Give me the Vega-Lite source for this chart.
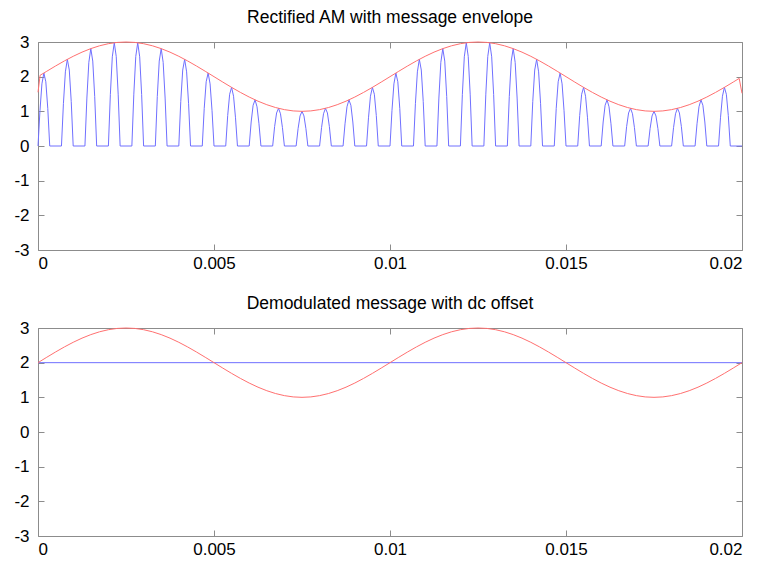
{
"$schema": "https://vega.github.io/schema/vega-lite/v6.json",
"padding": {"left": 13, "top": 8, "right": 10, "bottom": 5},
"background": "white",
"config": {
 "view": {"stroke": "#8c8c8c", "strokeWidth": 1},
 "axis": {"domain": false, "grid": false, "tickSize": -6, "tickColor": "#8c8c8c", "tickWidth": 1, "labelFont": "Liberation Sans", "labelFontSize": 17, "labelColor": "#000000", "title": null},
 "title": {"font": "Liberation Sans", "fontSize": 17.5, "fontWeight": "normal", "color": "#000000", "offset": 7},
 "concat": {"spacing": 22}
},
"datasets": {
 "am": [
{"t":0,"v":0},{"t":0.0000556,"v":1.0175},{"t":0.0001111,"v":1.7925},{"t":0.0001667,"v":2.1045},{"t":0.0002222,"v":1.8526},{"t":0.0002778,"v":1.0868},{"t":0.0003333,"v":0},
{"t":0.0006667,"v":0},{"t":0.0007222,"v":1.2192},{"t":0.0007778,"v":2.1387},{"t":0.0008333,"v":2.5},{"t":0.0008889,"v":2.191},{"t":0.0009444,"v":1.2796},{"t":0.001,"v":0},
{"t":0.0013333,"v":0},{"t":0.0013889,"v":1.383},{"t":0.0014444,"v":2.4145},{"t":0.0015,"v":2.809},{"t":0.0015556,"v":2.45},{"t":0.0016111,"v":1.424},{"t":0.0016667,"v":0},
{"t":0.002,"v":0},{"t":0.0020556,"v":1.4807},{"t":0.0021111,"v":2.5724},{"t":0.0021667,"v":2.9781},{"t":0.0022222,"v":2.5849},{"t":0.0022778,"v":1.4952},{"t":0.0023333,"v":0},
{"t":0.0026667,"v":0},{"t":0.0027222,"v":1.4952},{"t":0.0027778,"v":2.5849},{"t":0.0028333,"v":2.9781},{"t":0.0028889,"v":2.5724},{"t":0.0029444,"v":1.4807},{"t":0.003,"v":0},
{"t":0.0033333,"v":0},{"t":0.0033889,"v":1.424},{"t":0.0034444,"v":2.45},{"t":0.0035,"v":2.809},{"t":0.0035556,"v":2.4145},{"t":0.0036111,"v":1.383},{"t":0.0036667,"v":0},
{"t":0.004,"v":0},{"t":0.0040556,"v":1.2796},{"t":0.0041111,"v":2.191},{"t":0.0041667,"v":2.5},{"t":0.0042222,"v":2.1387},{"t":0.0042778,"v":1.2192},{"t":0.0043333,"v":0},
{"t":0.0046667,"v":0},{"t":0.0047222,"v":1.0868},{"t":0.0047778,"v":1.8526},{"t":0.0048333,"v":2.1045},{"t":0.0048889,"v":1.7925},{"t":0.0049444,"v":1.0175},{"t":0.005,"v":0},
{"t":0.0053333,"v":0},{"t":0.0053889,"v":0.8791},{"t":0.0054444,"v":1.4934},{"t":0.0055,"v":1.691},{"t":0.0055556,"v":1.4359},{"t":0.0056111,"v":0.8127},{"t":0.0056667,"v":0},
{"t":0.006,"v":0},{"t":0.0060556,"v":0.6922},{"t":0.0061111,"v":1.1754},{"t":0.0061667,"v":1.3309},{"t":0.0062222,"v":1.1304},{"t":0.0062778,"v":0.6404},{"t":0.0063333,"v":0},
{"t":0.0066667,"v":0},{"t":0.0067222,"v":0.5586},{"t":0.0067778,"v":0.9537},{"t":0.0068333,"v":1.0865},{"t":0.0068889,"v":0.9291},{"t":0.0069444,"v":0.5302},{"t":0.007,"v":0},
{"t":0.0073333,"v":0},{"t":0.0073889,"v":0.5012},{"t":0.0074444,"v":0.8665},{"t":0.0075,"v":1},{"t":0.0075556,"v":0.8665},{"t":0.0076111,"v":0.5012},{"t":0.0076667,"v":0},
{"t":0.008,"v":0},{"t":0.0080556,"v":0.5302},{"t":0.0081111,"v":0.9291},{"t":0.0081667,"v":1.0865},{"t":0.0082222,"v":0.9537},{"t":0.0082778,"v":0.5586},{"t":0.0083333,"v":0},
{"t":0.0086667,"v":0},{"t":0.0087222,"v":0.6404},{"t":0.0087778,"v":1.1304},{"t":0.0088333,"v":1.3309},{"t":0.0088889,"v":1.1754},{"t":0.0089444,"v":0.6922},{"t":0.009,"v":0},
{"t":0.0093333,"v":0},{"t":0.0093889,"v":0.8127},{"t":0.0094444,"v":1.4359},{"t":0.0095,"v":1.691},{"t":0.0095556,"v":1.4934},{"t":0.0096111,"v":0.8791},{"t":0.0096667,"v":0},
{"t":0.01,"v":0},{"t":0.0100556,"v":1.0175},{"t":0.0101111,"v":1.7925},{"t":0.0101667,"v":2.1045},{"t":0.0102222,"v":1.8526},{"t":0.0102778,"v":1.0868},{"t":0.0103333,"v":0},
{"t":0.0106667,"v":0},{"t":0.0107222,"v":1.2192},{"t":0.0107778,"v":2.1387},{"t":0.0108333,"v":2.5},{"t":0.0108889,"v":2.191},{"t":0.0109444,"v":1.2796},{"t":0.011,"v":0},
{"t":0.0113333,"v":0},{"t":0.0113889,"v":1.383},{"t":0.0114444,"v":2.4145},{"t":0.0115,"v":2.809},{"t":0.0115556,"v":2.45},{"t":0.0116111,"v":1.424},{"t":0.0116667,"v":0},
{"t":0.012,"v":0},{"t":0.0120556,"v":1.4807},{"t":0.0121111,"v":2.5724},{"t":0.0121667,"v":2.9781},{"t":0.0122222,"v":2.5849},{"t":0.0122778,"v":1.4952},{"t":0.0123333,"v":0},
{"t":0.0126667,"v":0},{"t":0.0127222,"v":1.4952},{"t":0.0127778,"v":2.5849},{"t":0.0128333,"v":2.9781},{"t":0.0128889,"v":2.5724},{"t":0.0129444,"v":1.4807},{"t":0.013,"v":0},
{"t":0.0133333,"v":0},{"t":0.0133889,"v":1.424},{"t":0.0134444,"v":2.45},{"t":0.0135,"v":2.809},{"t":0.0135556,"v":2.4145},{"t":0.0136111,"v":1.383},{"t":0.0136667,"v":0},
{"t":0.014,"v":0},{"t":0.0140556,"v":1.2796},{"t":0.0141111,"v":2.191},{"t":0.0141667,"v":2.5},{"t":0.0142222,"v":2.1387},{"t":0.0142778,"v":1.2192},{"t":0.0143333,"v":0},
{"t":0.0146667,"v":0},{"t":0.0147222,"v":1.0868},{"t":0.0147778,"v":1.8526},{"t":0.0148333,"v":2.1045},{"t":0.0148889,"v":1.7925},{"t":0.0149444,"v":1.0175},{"t":0.015,"v":0},
{"t":0.0153333,"v":0},{"t":0.0153889,"v":0.8791},{"t":0.0154444,"v":1.4934},{"t":0.0155,"v":1.691},{"t":0.0155556,"v":1.4359},{"t":0.0156111,"v":0.8127},{"t":0.0156667,"v":0},
{"t":0.016,"v":0},{"t":0.0160556,"v":0.6922},{"t":0.0161111,"v":1.1754},{"t":0.0161667,"v":1.3309},{"t":0.0162222,"v":1.1304},{"t":0.0162778,"v":0.6404},{"t":0.0163333,"v":0},
{"t":0.0166667,"v":0},{"t":0.0167222,"v":0.5586},{"t":0.0167778,"v":0.9537},{"t":0.0168333,"v":1.0865},{"t":0.0168889,"v":0.9291},{"t":0.0169444,"v":0.5302},{"t":0.017,"v":0},
{"t":0.0173333,"v":0},{"t":0.0173889,"v":0.5012},{"t":0.0174444,"v":0.8665},{"t":0.0175,"v":1},{"t":0.0175556,"v":0.8665},{"t":0.0176111,"v":0.5012},{"t":0.0176667,"v":0},
{"t":0.018,"v":0},{"t":0.0180556,"v":0.5302},{"t":0.0181111,"v":0.9291},{"t":0.0181667,"v":1.0865},{"t":0.0182222,"v":0.9537},{"t":0.0182778,"v":0.5586},{"t":0.0183333,"v":0},
{"t":0.0186667,"v":0},{"t":0.0187222,"v":0.6404},{"t":0.0187778,"v":1.1304},{"t":0.0188333,"v":1.3309},{"t":0.0188889,"v":1.1754},{"t":0.0189444,"v":0.6922},{"t":0.019,"v":0},
{"t":0.0193333,"v":0},{"t":0.0193889,"v":0.8127},{"t":0.0194444,"v":1.4359},{"t":0.0195,"v":1.691},{"t":0.0195556,"v":1.4934},{"t":0.0196111,"v":0.8791},{"t":0.0196667,"v":0},
{"t":0.02,"v":0}
 ],
 "envtop": [
{"t":0,"v":1.55},{"t":0.00006,"v":2.04},{"t":0.00025,"v":2.1564},{"t":0.0005,"v":2.309},{"t":0.00075,"v":2.454},{"t":0.001,"v":2.5878},{"t":0.00125,"v":2.7071},{"t":0.0015,"v":2.809},{"t":0.00175,"v":2.891},{"t":0.002,"v":2.9511},{"t":0.00225,"v":2.9877},{"t":0.0025,"v":3},{"t":0.00275,"v":2.9877},{"t":0.003,"v":2.9511},{"t":0.00325,"v":2.891},{"t":0.0035,"v":2.809},{"t":0.00375,"v":2.7071},{"t":0.004,"v":2.5878},{"t":0.00425,"v":2.454},{"t":0.0045,"v":2.309},{"t":0.00475,"v":2.1564},{"t":0.005,"v":2},{"t":0.00525,"v":1.8436},{"t":0.0055,"v":1.691},{"t":0.00575,"v":1.546},{"t":0.006,"v":1.4122},{"t":0.00625,"v":1.2929},{"t":0.0065,"v":1.191},{"t":0.00675,"v":1.109},{"t":0.007,"v":1.0489},{"t":0.00725,"v":1.0123},{"t":0.0075,"v":1},{"t":0.00775,"v":1.0123},{"t":0.008,"v":1.0489},{"t":0.00825,"v":1.109},{"t":0.0085,"v":1.191},{"t":0.00875,"v":1.2929},{"t":0.009,"v":1.4122},{"t":0.00925,"v":1.546},{"t":0.0095,"v":1.691},{"t":0.00975,"v":1.8436},
{"t":0.01,"v":2},{"t":0.01025,"v":2.1564},{"t":0.0105,"v":2.309},{"t":0.01075,"v":2.454},{"t":0.011,"v":2.5878},{"t":0.01125,"v":2.7071},{"t":0.0115,"v":2.809},{"t":0.01175,"v":2.891},{"t":0.012,"v":2.9511},{"t":0.01225,"v":2.9877},{"t":0.0125,"v":3},{"t":0.01275,"v":2.9877},{"t":0.013,"v":2.9511},{"t":0.01325,"v":2.891},{"t":0.0135,"v":2.809},{"t":0.01375,"v":2.7071},{"t":0.014,"v":2.5878},{"t":0.01425,"v":2.454},{"t":0.0145,"v":2.309},{"t":0.01475,"v":2.1564},{"t":0.015,"v":2},{"t":0.01525,"v":1.8436},{"t":0.0155,"v":1.691},{"t":0.01575,"v":1.546},{"t":0.016,"v":1.4122},{"t":0.01625,"v":1.2929},{"t":0.0165,"v":1.191},{"t":0.01675,"v":1.109},{"t":0.017,"v":1.0489},{"t":0.01725,"v":1.0123},{"t":0.0175,"v":1},{"t":0.01775,"v":1.0123},{"t":0.018,"v":1.0489},{"t":0.01825,"v":1.109},{"t":0.0185,"v":1.191},{"t":0.01875,"v":1.2929},{"t":0.019,"v":1.4122},{"t":0.01925,"v":1.546},{"t":0.0195,"v":1.691},{"t":0.01975,"v":1.8436},{"t":0.01992,"v":1.95},{"t":0.02,"v":1.52}
 ],
 "env": [
{"t":0,"v":2},{"t":0.00025,"v":2.1564},{"t":0.0005,"v":2.309},{"t":0.00075,"v":2.454},{"t":0.001,"v":2.5878},{"t":0.00125,"v":2.7071},{"t":0.0015,"v":2.809},{"t":0.00175,"v":2.891},{"t":0.002,"v":2.9511},{"t":0.00225,"v":2.9877},{"t":0.0025,"v":3},{"t":0.00275,"v":2.9877},{"t":0.003,"v":2.9511},{"t":0.00325,"v":2.891},{"t":0.0035,"v":2.809},{"t":0.00375,"v":2.7071},{"t":0.004,"v":2.5878},{"t":0.00425,"v":2.454},{"t":0.0045,"v":2.309},{"t":0.00475,"v":2.1564},{"t":0.005,"v":2},{"t":0.00525,"v":1.8436},{"t":0.0055,"v":1.691},{"t":0.00575,"v":1.546},{"t":0.006,"v":1.4122},{"t":0.00625,"v":1.2929},{"t":0.0065,"v":1.191},{"t":0.00675,"v":1.109},{"t":0.007,"v":1.0489},{"t":0.00725,"v":1.0123},{"t":0.0075,"v":1},{"t":0.00775,"v":1.0123},{"t":0.008,"v":1.0489},{"t":0.00825,"v":1.109},{"t":0.0085,"v":1.191},{"t":0.00875,"v":1.2929},{"t":0.009,"v":1.4122},{"t":0.00925,"v":1.546},{"t":0.0095,"v":1.691},{"t":0.00975,"v":1.8436},
{"t":0.01,"v":2},{"t":0.01025,"v":2.1564},{"t":0.0105,"v":2.309},{"t":0.01075,"v":2.454},{"t":0.011,"v":2.5878},{"t":0.01125,"v":2.7071},{"t":0.0115,"v":2.809},{"t":0.01175,"v":2.891},{"t":0.012,"v":2.9511},{"t":0.01225,"v":2.9877},{"t":0.0125,"v":3},{"t":0.01275,"v":2.9877},{"t":0.013,"v":2.9511},{"t":0.01325,"v":2.891},{"t":0.0135,"v":2.809},{"t":0.01375,"v":2.7071},{"t":0.014,"v":2.5878},{"t":0.01425,"v":2.454},{"t":0.0145,"v":2.309},{"t":0.01475,"v":2.1564},{"t":0.015,"v":2},{"t":0.01525,"v":1.8436},{"t":0.0155,"v":1.691},{"t":0.01575,"v":1.546},{"t":0.016,"v":1.4122},{"t":0.01625,"v":1.2929},{"t":0.0165,"v":1.191},{"t":0.01675,"v":1.109},{"t":0.017,"v":1.0489},{"t":0.01725,"v":1.0123},{"t":0.0175,"v":1},{"t":0.01775,"v":1.0123},{"t":0.018,"v":1.0489},{"t":0.01825,"v":1.109},{"t":0.0185,"v":1.191},{"t":0.01875,"v":1.2929},{"t":0.019,"v":1.4122},{"t":0.01925,"v":1.546},{"t":0.0195,"v":1.691},{"t":0.01975,"v":1.8436},{"t":0.02,"v":2}
 ],
 "dc": [{"t":0,"v":2},{"t":0.02,"v":2}]
},
"vconcat": [
 {
  "width": 704, "height": 208,
  "title": "Rectified AM with message envelope",
  "resolve": {"axis": {"x": "independent", "y": "independent"}},
  "layer": [
   {"data": {"name": "am"},
    "mark": {"type": "line", "color": "#7070ff", "strokeWidth": 1},
    "encoding": {
     "x": {"field": "t", "type": "quantitative", "scale": {"domain": [0, 0.02], "nice": false}, "axis": {"orient": "bottom", "values": [0, 0.005, 0.01, 0.015, 0.02], "format": "~g", "labelPadding": 11}},
     "y": {"field": "v", "type": "quantitative", "scale": {"domain": [-3, 3], "nice": false}, "axis": {"orient": "left", "values": [-3, -2, -1, 0, 1, 2, 3], "labelExpr": "datum.value + ''", "labelPadding": 15}}
    }},
   {"data": {"name": "envtop"},
    "mark": {"type": "line", "color": "#ff7070", "strokeWidth": 1},
    "encoding": {
     "x": {"field": "t", "type": "quantitative", "axis": {"orient": "top", "values": [0, 0.005, 0.01, 0.015, 0.02], "labels": false}},
     "y": {"field": "v", "type": "quantitative", "axis": {"orient": "right", "values": [-3, -2, -1, 0, 1, 2, 3], "labels": false}}
    }}
  ]
 },
 {
  "width": 704, "height": 208,
  "title": "Demodulated message with dc offset",
  "resolve": {"axis": {"x": "independent", "y": "independent"}},
  "layer": [
   {"data": {"name": "dc"},
    "mark": {"type": "line", "color": "#7070ff", "strokeWidth": 1},
    "encoding": {
     "x": {"field": "t", "type": "quantitative", "scale": {"domain": [0, 0.02], "nice": false}, "axis": {"orient": "bottom", "values": [0, 0.005, 0.01, 0.015, 0.02], "format": "~g", "labelPadding": 11}},
     "y": {"field": "v", "type": "quantitative", "scale": {"domain": [-3, 3], "nice": false}, "axis": {"orient": "left", "values": [-3, -2, -1, 0, 1, 2, 3], "labelExpr": "datum.value + ''", "labelPadding": 15}}
    }},
   {"data": {"name": "env"},
    "mark": {"type": "line", "color": "#ff7070", "strokeWidth": 1},
    "encoding": {
     "x": {"field": "t", "type": "quantitative", "axis": {"orient": "top", "values": [0, 0.005, 0.01, 0.015, 0.02], "labels": false}},
     "y": {"field": "v", "type": "quantitative", "axis": {"orient": "right", "values": [-3, -2, -1, 0, 1, 2, 3], "labels": false}}
    }}
  ]
 }
]
}
